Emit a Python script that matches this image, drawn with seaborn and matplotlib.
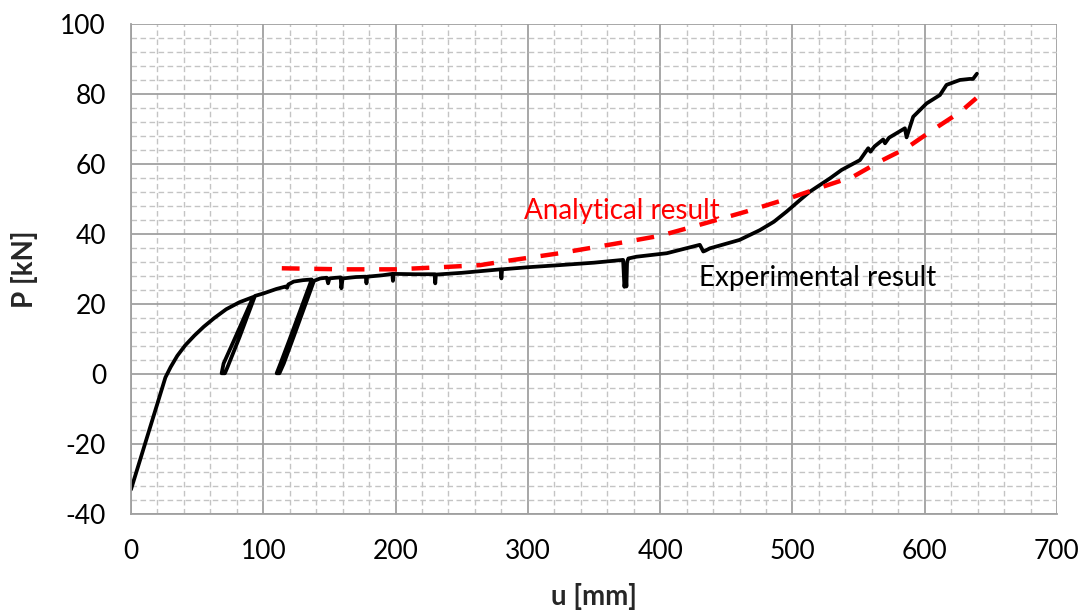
import numpy as np
import pandas as pd
import matplotlib
matplotlib.use("Agg")
import matplotlib.pyplot as plt
from matplotlib.ticker import MultipleLocator
import seaborn as sns

# experimental load-displacement curve (with two unload/reload loops)
exp_u = [0, 10, 20, 26, 30, 35, 41, 48, 55, 63, 72, 82, 92.4,
         79.5, 70, 68.5, 71, 73, 82, 93.7,
         100, 110, 117, 118, 119, 123, 130, 136.6,
         120, 113, 110.1, 112.2, 115.5, 123.3, 138.3,
         143, 148, 149, 150, 155, 158.5, 159, 160, 165, 170, 177.5, 178, 178.5,
         190, 197.5, 198, 198.5, 215, 229.5, 230, 230.5, 250, 279.5, 280, 280.5,
         300, 324, 350, 372, 373, 374, 374.5, 375, 376, 382,
         405, 430, 432.6, 434, 437.6, 460, 475.4, 486, 495.6, 505.7, 513.2,
         528.4, 537.2, 551, 557.3, 559, 562, 568.6, 570, 573, 585, 586.3,
         591.3, 601.4, 611.5, 616.5, 626.6, 634, 636.5, 639.5]
exp_P = [-33, -20.7, -8.4, -1, 2, 5.2, 8.2, 11, 13.5, 16, 18.5, 20.5, 22,
         11, 3, 0.2, 0.2, 2, 10.5, 22.3,
         23, 24.3, 25, 24.6, 25.6, 26.4, 26.8, 27.0,
         10, 3, 0.2, 0.2, 3, 11, 26.6,
         27.3, 27.5, 25.9, 27.3, 27.5, 27.6, 24.5, 27.3, 27.5, 27.7, 27.8, 25.9, 27.8,
         28.2, 28.6, 26.6, 28.6, 28.5, 28.5, 25.9, 28.4, 28.9, 29.9, 27.3, 29.9,
         30.5, 31.1, 31.8, 32.6, 24.9, 28, 25, 32, 33, 33.5,
         34.5, 36.9, 35.0, 35.2, 35.9, 38.3, 41.1, 43.5, 46.4, 49.7, 52.1,
         55.9, 58.3, 61.1, 64.5, 63.5, 65, 67, 65.9, 67.5, 70.2, 67.6,
         73.5, 77.3, 79.7, 82.6, 84, 84.3, 84.3, 85.8]

# analytical prediction
ana_u = [114, 160, 200, 234, 264, 284, 324, 375, 400, 425, 465, 500,
         523, 546, 566, 586, 606, 627, 639]
ana_P = [30.2, 29.9, 29.9, 30.5, 31.1, 32.3, 34.5, 37.8, 39.5, 42.1, 46.4, 50.5,
         53.5, 56.4, 60.7, 64.5, 69.7, 74.9, 78.8]

exp_df = pd.DataFrame({"u": exp_u, "P": exp_P})
ana_df = pd.DataFrame({"u": ana_u, "P": ana_P})

sns.set_style("white")
plt.rcParams["font.family"] = ["Lato", "DejaVu Sans"]
plt.rcParams["axes.unicode_minus"] = False

fig, ax = plt.subplots(figsize=(10.8, 6.1), dpi=100)
fig.subplots_adjust(left=0.1213, right=0.9787, top=0.9607, bottom=0.1574)

#grid first so the curves sit on top
ax.set_axisbelow(True)
ax.xaxis.set_major_locator(MultipleLocator(100))
ax.xaxis.set_minor_locator(MultipleLocator(20))
ax.yaxis.set_major_locator(MultipleLocator(20))
ax.yaxis.set_minor_locator(MultipleLocator(4))
ax.grid(which="minor", color="#c4c4c4", linestyle=(0, (4, 2.5)), linewidth=1.0)
ax.grid(which="major", color="#a0a0a0", linestyle="-", linewidth=1.3)

sns.lineplot(data=exp_df, x="u", y="P", sort=False, estimator=None,
             color="black", linewidth=2.7, ax=ax)
sns.lineplot(data=ana_df, x="u", y="P", sort=False, estimator=None,
             color="#ff0000", linewidth=3.2, dashes=False, ax=ax)
ax.lines[-1].set_dashes((4, 3.3))

ax.set_xlim(0, 700)
ax.set_ylim(-40, 100)

for side in ["top", "right"]:
    ax.spines[side].set_visible(False)
for side in ["left", "bottom"]:
    ax.spines[side].set_color("#a0a0a0")
    ax.spines[side].set_linewidth(1.3)

ax.tick_params(which="major", direction="out", length=7, width=1.3,
               color="#a0a0a0", labelsize=19, labelcolor="black")
ax.tick_params(axis="y", which="major", pad=11)
ax.tick_params(axis="x", which="major", pad=11)
ax.tick_params(which="minor", length=0)

ax.set_xlabel("u [mm]", fontsize=20, fontweight="bold", labelpad=14)
ax.set_ylabel("P [kN]", fontsize=20, fontweight="bold", labelpad=16)

ax.text(371, 46.5, "Analytical result", color="#ff0000", fontsize=20,
        ha="center", va="center")
ax.text(519, 27.3, "Experimental result", color="black", fontsize=20,
        ha="center", va="center")

plt.savefig("out.png", dpi=100)
